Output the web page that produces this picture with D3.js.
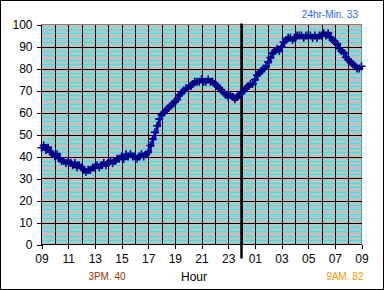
<!DOCTYPE html>
<html>
<head>
<meta charset="utf-8">
<script src="https://cdn.jsdelivr.net/npm/d3@7/dist/d3.min.js"></script>
<style>
  body { margin: 0; background: #fff; }
  svg { display: block; font-family: "Liberation Sans", Arial, sans-serif; }
</style>
</head>
<body>
<div id="chart"></div>
<script>
// hour tick labels, one every two hours from 09 to 09 next day
const hourLabels = ["09", "11", "13", "15", "17", "19", "21", "23", "01", "03", "05", "07", "09"];
const yTicks = [0, 10, 20, 30, 40, 50, 60, 70, 80, 90, 100];
const stepMinutes = 10;
const midnightHour = 15; // hours after 09:00

// readings every 10 minutes, 09:00 -> 09:00
const temps = [
  44, 45, 43, 44, 42, 41,   // 09
  40, 41, 39, 38, 38, 37,   // 10
  38, 37, 36, 37, 35, 36,   // 11
  35, 34, 33, 34, 34, 35,   // 12
  35, 36, 35, 36, 37, 36,   // 13
  37, 38, 37, 38, 39, 39,   // 14
  40, 39, 41, 40, 41, 40,   // 15
  40, 39, 40, 41, 40, 41,   // 16
  42, 45, 48, 51, 54, 57,   // 17
  59, 60, 61, 62, 63, 64,   // 18
  65, 66, 68, 69, 70, 71,   // 19
  71, 72, 73, 74, 74, 74,   // 20
  75, 74, 74, 75, 74, 74,   // 21
  73, 72, 71, 70, 69, 68,   // 22
  67, 68, 67, 66, 67, 68,   // 23
  69, 70, 71, 72, 73, 73,   // 00
  75, 77, 78, 79, 80, 81,   // 01
  83, 85, 87, 88, 89, 88,   // 02
  90, 92, 93, 94, 94, 93,   // 03
  94, 95, 95, 95, 94, 95,   // 04
  95, 95, 94, 95, 94, 95,   // 05
  95, 96, 95, 96, 94, 93,   // 06
  92, 91, 89, 88, 87, 85,   // 07
  84, 83, 82, 81, 80, 80,   // 08
  81                        // 09
];

const minNote = "24hr-Min. 33";
const pmNote = "3PM. 40";
const amNote = "9AM. 82";

const W = 385, H = 290;
const svg = d3.select("#chart").append("svg").attr("width", W).attr("height", H);

svg.append("rect")
  .attr("x", 0.5).attr("y", 0.5)
  .attr("width", W - 2).attr("height", H - 1)
  .attr("fill", "#fff").attr("stroke", "#000");

const x = d3.scaleLinear().domain([0, 24]).range([41.5, 361.5]);
const y = d3.scaleLinear().domain([0, 100]).range([244.5, 24.5]);

// plot area
svg.append("rect")
  .attr("x", x(0)).attr("y", y(100))
  .attr("width", x(24) - x(0)).attr("height", y(0) - y(100))
  .attr("fill", "#c0c0c0").attr("stroke", "#808080");

const grid = svg.append("g").attr("shape-rendering", "crispEdges");

// minor gridlines every 2
grid.selectAll(".minor")
  .data(d3.range(2, 100, 2).filter(d => d % 10 !== 0))
  .enter().append("line")
  .attr("x1", x(0)).attr("x2", x(24))
  .attr("y1", d => Math.round(y(d)) + 0.5).attr("y2", d => Math.round(y(d)) + 0.5)
  .attr("stroke", "#00ffff");

grid.selectAll(".major")
  .data(yTicks.slice(1, -1))
  .enter().append("line")
  .attr("x1", x(0)).attr("x2", x(24))
  .attr("y1", d => Math.round(y(d)) + 0.5).attr("y2", d => Math.round(y(d)) + 0.5)
  .attr("stroke", "#000");

grid.selectAll(".vert")
  .data(d3.range(1, 24))
  .enter().append("line")
  .attr("x1", d => Math.round(x(d)) + 0.5).attr("x2", d => Math.round(x(d)) + 0.5)
  .attr("y1", y(100)).attr("y2", y(0))
  .attr("stroke", "#000");

// axes
const yAxis = d3.axisLeft(y).tickValues(yTicks).tickSize(5).tickPadding(4);
const xAxis = d3.axisBottom(x).tickValues(d3.range(0, 25, 2)).tickSize(4).tickPadding(6)
  .tickFormat((d, i) => hourLabels[i]);

const gy = svg.append("g").attr("transform", `translate(${x(0)},0)`).call(yAxis);
const gx = svg.append("g").attr("transform", `translate(0,${y(0)})`).call(xAxis);
[gy, gx].forEach(g => {
  g.selectAll("path,line").attr("stroke", "#000").attr("shape-rendering", "crispEdges");
  g.selectAll("text").attr("fill", "#000").style("font-size", "12px");
  g.select(".domain").attr("d", g === gy
    ? `M0,${y(0)}V${y(100)}`
    : `M${x(0)},0H${x(24)}`);
});

// midnight divider
svg.append("line")
  .attr("x1", x(midnightHour)).attr("x2", x(midnightHour))
  .attr("y1", y(100) - 1).attr("y2", y(0) + 14)
  .attr("stroke", "#000").attr("stroke-width", 2.5);

// series
const pts = temps.map((v, i) => ({ h: i * stepMinutes / 60, v }));

svg.append("path")
  .datum(pts)
  .attr("fill", "none")
  .attr("stroke", "#0000ee")
  .attr("stroke-width", 3)
  .attr("d", d3.line().x(d => x(d.h)).y(d => y(d.v)).curve(d3.curveStepAfter));

svg.append("g").selectAll("path")
  .data(pts)
  .enter().append("path")
  .attr("transform", d => `translate(${x(d.h)},${y(d.v)})`)
  .attr("d", "M-4,0H4M0,-4V4")
  .attr("stroke", "#000080").attr("stroke-width", 1.6);

// annotations
svg.append("text").attr("x", 358).attr("y", 18).attr("text-anchor", "end")
  .attr("fill", "#3366ff").style("font-size", "10px").text(minNote);
svg.append("text").attr("x", 107).attr("y", 280).attr("text-anchor", "middle")
  .attr("fill", "#993300").style("font-size", "10px").text(pmNote);
svg.append("text").attr("x", 194).attr("y", 281).attr("text-anchor", "middle")
  .attr("fill", "#000").style("font-size", "12px").text("Hour");
svg.append("text").attr("x", 345).attr("y", 280).attr("text-anchor", "middle")
  .attr("fill", "#ff9900").style("font-size", "10px").text(amNote);
</script>
</body>
</html>
